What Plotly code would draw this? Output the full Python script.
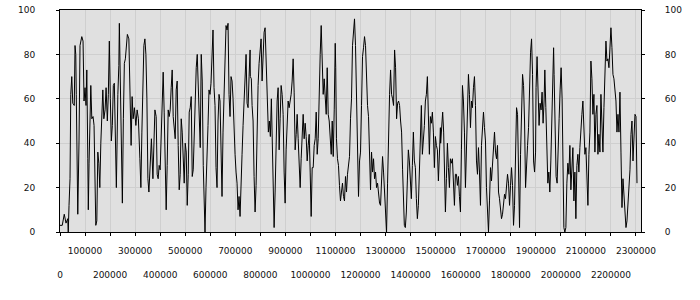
import plotly.graph_objects as go

x_values = [
    0, 9000, 17000, 24000, 31000, 33000, 36000, 40000, 43000, 47000, 51000, 57000, 60000, 63000, 65000, 68000, 71000, 76000, 80000, 87000,
    92000, 96000, 100000, 104000, 107000, 111000, 113000, 116000, 120000, 123000, 127000, 132000, 136000, 140000, 143000, 147000, 151000, 155000, 159000, 163000,
    167000, 171000, 175000, 180000, 184000, 189000, 193000, 197000, 201000, 205000, 209000, 213000, 217000, 221000, 225000, 231000, 235000, 237000, 241000, 245000,
    249000, 253000, 257000, 261000, 265000, 269000, 275000, 280000, 284000, 288000, 292000, 297000, 303000, 308000, 313000, 319000, 323000, 327000, 331000, 335000,
    339000, 343000, 347000, 351000, 355000, 360000, 365000, 371000, 376000,
    379000, 384000, 388000, 392000, 396000, 400000, 404000, 408000, 412000, 416000, 420000, 424000, 428000, 432000, 436000, 440000, 444000, 448000, 452000, 456000,
    460000, 464000, 468000, 472000, 476000, 480000, 484000, 488000, 492000, 496000, 500000, 504000, 508000, 512000, 516000, 520000, 524000, 528000, 532000, 536000,
    540000, 544000, 548000, 552000, 556000, 560000, 564000, 568000, 572000, 576000, 579000, 583000, 587000, 591000, 595000, 599000, 603000, 607000, 611000, 615000,
    619000, 623000, 627000, 631000, 635000, 639000, 643000, 647000, 651000, 655000, 659000, 663000, 667000, 671000, 675000, 679000, 683000, 687000, 691000, 695000,
    699000, 703000, 707000, 711000, 715000, 719000, 723000, 727000, 731000, 735000, 739000, 743000, 747000, 751000, 755000, 759000,
    760000, 764000, 767000, 771000, 775000, 779000, 783000, 787000, 791000, 795000, 799000, 803000, 807000, 811000, 815000, 819000, 823000, 825000, 828000, 832000,
    836000, 840000, 844000, 848000, 852000, 855000, 859000, 863000, 867000, 871000, 875000, 879000, 883000, 887000, 891000, 895000, 899000, 903000, 907000, 911000,
    915000, 919000, 923000, 927000, 931000, 935000, 939000, 943000, 947000, 951000, 955000, 959000, 963000, 967000, 971000, 975000, 979000, 983000, 987000, 991000,
    995000, 999000, 1003000, 1007000, 1011000, 1015000, 1019000, 1023000, 1027000, 1031000, 1035000, 1039000, 1043000, 1047000, 1051000, 1055000, 1059000, 1063000, 1067000, 1071000,
    1075000, 1079000, 1083000, 1087000, 1091000, 1095000, 1099000, 1101000, 1104000, 1108000, 1112000, 1116000, 1120000, 1124000, 1128000, 1132000, 1136000,
    1140000, 1144000, 1148000, 1152000, 1156000, 1160000, 1164000, 1168000, 1172000, 1176000, 1180000, 1184000, 1188000, 1192000, 1196000, 1200000, 1204000, 1208000, 1212000, 1216000,
    1220000, 1224000, 1228000, 1232000, 1236000, 1240000, 1244000, 1248000, 1252000, 1256000, 1260000, 1264000, 1268000, 1272000, 1276000, 1280000, 1284000, 1288000, 1292000, 1296000,
    1300000, 1304000, 1308000, 1312000, 1316000, 1320000, 1324000, 1328000, 1332000, 1336000, 1340000, 1344000, 1348000, 1352000, 1356000, 1360000, 1364000, 1368000, 1371000, 1375000,
    1379000, 1383000, 1387000, 1391000, 1395000, 1399000, 1403000, 1407000, 1411000, 1415000, 1419000, 1423000, 1427000, 1431000, 1435000, 1439000, 1443000, 1447000, 1451000, 1455000,
    1459000, 1463000, 1467000, 1471000, 1475000, 1479000, 1483000, 1487000, 1491000, 1495000, 1499000, 1503000, 1507000, 1511000, 1515000, 1519000,
    1520000, 1524000, 1528000, 1532000, 1536000, 1539000, 1543000, 1547000, 1551000, 1555000, 1559000, 1563000, 1567000, 1571000, 1575000, 1579000, 1583000, 1587000, 1591000, 1595000,
    1599000, 1603000, 1607000, 1611000, 1615000, 1619000, 1623000, 1627000, 1631000, 1635000, 1639000, 1643000, 1647000, 1651000, 1655000, 1659000, 1663000, 1667000, 1671000, 1675000,
    1679000, 1683000, 1687000, 1691000, 1695000, 1699000, 1703000, 1707000, 1711000, 1715000, 1719000, 1723000, 1727000, 1731000, 1735000, 1739000, 1743000, 1747000, 1751000, 1755000,
    1759000, 1763000, 1767000, 1771000, 1775000, 1779000, 1783000, 1787000, 1791000, 1795000, 1799000, 1803000, 1807000, 1811000, 1815000, 1819000, 1823000, 1827000, 1831000, 1835000,
    1839000, 1843000, 1847000, 1851000, 1855000, 1859000, 1863000, 1867000, 1871000, 1875000, 1879000, 1883000, 1887000, 1891000, 1895000, 1899000,
    1901000, 1905000, 1909000, 1913000, 1917000, 1921000, 1925000, 1929000, 1933000, 1936000, 1940000, 1944000, 1948000, 1952000, 1956000, 1960000, 1964000, 1968000, 1971000, 1973000,
    1977000, 1981000, 1985000, 1989000, 1993000, 1997000, 2001000, 2005000, 2009000, 2012000, 2016000, 2020000, 2024000, 2028000, 2032000, 2036000, 2040000, 2044000, 2048000, 2052000,
    2056000, 2060000, 2064000, 2068000, 2072000, 2076000, 2080000, 2084000, 2088000, 2092000, 2096000, 2100000, 2104000, 2108000, 2112000, 2116000, 2120000, 2124000, 2128000, 2132000,
    2136000, 2140000, 2144000, 2148000, 2152000, 2156000, 2160000, 2164000, 2168000, 2172000, 2176000, 2180000, 2184000, 2188000, 2192000, 2196000, 2200000, 2204000, 2208000, 2212000,
    2216000, 2220000, 2224000, 2228000, 2232000, 2236000, 2240000, 2244000, 2248000, 2252000, 2256000, 2260000, 2264000, 2268000, 2272000, 2276000, 2280000, 2284000, 2288000, 2292000,
    2296000, 2300000, 2304000,
]

y_values = [
    3, 3, 8, 4, 6, 0, 12, 24, 62, 70, 58, 57, 84, 80, 62, 11, 8, 41, 84, 88,
    86, 59, 65, 57, 73, 33, 10, 31, 50, 66, 51, 52, 48, 18, 3, 5, 36, 31, 20, 40,
    58, 64, 51, 55, 65, 50, 62, 86, 60, 41, 48, 66, 67, 33, 20, 62, 75, 94, 61, 29,
    13, 51, 76, 78, 83, 89, 87, 61, 39, 61, 51, 56, 48, 55, 51, 33, 20, 45, 70, 84,
    87, 80, 60, 24, 18, 30, 42, 24, 49,
    55, 52, 26, 24, 30, 28, 42, 52, 72, 54, 24, 10, 30, 55, 52, 55, 65, 73, 52, 45,
    42, 64, 68, 39, 19, 26, 51, 45, 30, 22, 40, 36, 12, 26, 54, 56, 61, 25, 28, 48,
    54, 74, 80, 65, 55, 38, 80, 68, 30, 4, 0, 20, 40, 48, 64, 62, 67, 80, 91, 65,
    57, 29, 20, 50, 62, 59, 30, 16, 45, 60, 86, 93, 91, 94, 62, 52, 70, 68, 60, 42,
    35, 27, 22, 10, 16, 7, 28, 35, 48, 60, 72, 80, 58, 56, 70, 82,
    70, 69, 57, 50, 25, 9, 21, 50, 66, 76, 84, 87, 68, 79, 90, 92, 77, 65, 50, 45,
    50, 43, 60, 41, 18, 2, 18, 44, 59, 65, 37, 51, 66, 62, 53, 27, 13, 37, 48, 59,
    56, 59, 62, 68, 78, 63, 37, 44, 53, 42, 31, 20, 33, 45, 53, 42, 49, 43, 32, 39,
    44, 27, 7, 29, 29, 39, 42, 54, 35, 42, 65, 80, 93, 80, 62, 69, 59, 53, 74, 53,
    50, 41, 35, 50, 34, 55, 85, 74, 42, 33, 30, 21, 14, 18, 22, 16, 14,
    25, 18, 26, 31, 34, 51, 60, 84, 92, 96, 84, 57, 30, 16, 32, 36, 57, 79, 83, 88,
    84, 69, 57, 52, 37, 19, 36, 27, 33, 24, 27, 20, 22, 15, 13, 12, 20, 34, 27, 18,
    9, 0, 22, 52, 62, 73, 62, 60, 57, 82, 74, 51, 58, 59, 57, 50, 45, 28, 12, 3,
    2, 9, 23, 37, 32, 23, 15, 30, 45, 32, 29, 15, 6, 12, 32, 50, 57, 35, 40, 48,
    59, 62, 70, 55, 35, 52, 49, 54, 45, 29, 43, 39, 37, 23, 42, 47,
    40, 51, 54, 45, 29, 9, 24, 40, 29, 20, 33, 31, 33, 20, 12, 26, 26, 21, 25, 16,
    9, 37, 66, 59, 45, 20, 37, 57, 71, 62, 47, 59, 56, 65, 70, 57, 32, 26, 38, 27,
    12, 39, 51, 54, 47, 41, 20, 6, 0, 14, 29, 23, 30, 39, 45, 36, 33, 39, 18, 15,
    8, 6, 8, 14, 17, 15, 20, 26, 22, 12, 21, 29, 21, 3, 12, 35, 56, 53, 21, 2,
    35, 59, 71, 66, 50, 20, 32, 39, 47, 74, 81, 87, 71, 32, 27, 36,
    65, 79, 66, 48, 58, 55, 63, 49, 59, 73, 56, 30, 22, 27, 18, 32, 52, 71, 83, 71,
    50, 25, 22, 41, 51, 64, 74, 60, 27, 2, 0, 2, 22, 31, 26, 39, 19, 27, 38, 14,
    27, 6, 30, 35, 27, 38, 50, 53, 59, 47, 35, 38, 18, 12, 35, 45, 77, 69, 53, 62,
    36, 53, 57, 35, 44, 36, 62, 47, 36, 56, 77, 86, 77, 78, 74, 86, 92, 83, 71, 69,
    65, 59, 45, 53, 45, 63, 36, 11, 24, 18, 11, 2, 5, 13, 18, 28, 44, 50, 32, 45,
    53, 52, 22,
]

y_ticks = [0, 20, 40, 60, 80, 100]
x_ticks_upper = [100000, 300000, 500000, 700000, 900000, 1100000, 1300000, 1500000, 1700000, 1900000, 2100000, 2300000]
x_ticks_lower = [0, 200000, 400000, 600000, 800000, 1000000, 1200000, 1400000, 1600000, 1800000, 2000000, 2200000]
x_grid = sorted(x_ticks_upper + x_ticks_lower)

FONT = dict(family="DejaVu Sans", size=9, color="#111111")
GRID = "#cfcfcf"

fig = go.Figure()
fig.add_trace(go.Scatter(x=x_values, y=y_values, mode="lines",
                         line=dict(color="black", width=1), showlegend=False, hoverinfo="skip"))
fig.add_trace(go.Scatter(x=[0], y=[0], xaxis="x2", yaxis="y2", mode="markers",
                         marker=dict(opacity=0), showlegend=False, hoverinfo="skip"))

fig.update_layout(
    width=700, height=300,
    margin=dict(l=60, r=59, t=10, b=68),
    paper_bgcolor="white",
    plot_bgcolor="#e0e0e0",
    xaxis=dict(range=[0, 2320000], tickvals=x_grid,
               ticktext=["" if v in x_ticks_lower else str(v) for v in x_grid],
               showgrid=True, gridcolor=GRID, gridwidth=1,
               showline=True, linecolor="black", linewidth=1, mirror=True,
               ticks="outside", ticklen=3, tickcolor="black",
               tickfont=FONT, zeroline=False, ticklabelstandoff=7, automargin=False),
    xaxis2=dict(range=[0, 2320000], overlaying="x", side="bottom", anchor="y",
                tickvals=x_ticks_lower, ticktext=[str(v) for v in x_ticks_lower],
                showgrid=False, showline=False, ticks="", tickfont=FONT,
                zeroline=False, ticklabelstandoff=36, automargin=False),
    yaxis=dict(range=[0, 100], tickvals=y_ticks, showgrid=True, gridcolor=GRID,
               showline=True, linecolor="black", linewidth=1, mirror=True,
               ticks="outside", ticklen=3, tickcolor="black",
               tickfont=FONT, zeroline=False, ticklabelstandoff=19, automargin=False),
    yaxis2=dict(range=[0, 100], overlaying="y", side="right", anchor="x",
                tickvals=y_ticks, showgrid=False, showline=False,
                ticks="outside", ticklen=3, tickcolor="black",
                tickfont=FONT, zeroline=False, ticklabelstandoff=18, automargin=False),
)

fig.write_html("out.html")
